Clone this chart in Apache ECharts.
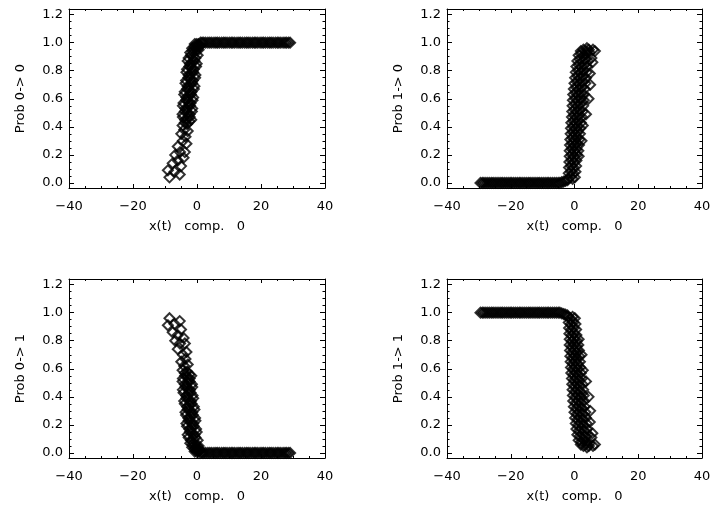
<!DOCTYPE html>
<html>
<head>
<meta charset="utf-8">
<script src="https://cdn.jsdelivr.net/npm/echarts@6/dist/echarts.min.js"></script>
<style>
html,body{margin:0;padding:0;background:#fff;}
#c{width:714px;height:508px;}
</style>
</head>
<body>
<div id="c"></div>
<script>
// ---------- data ----------
const xName = 'x(t)   comp.   0';
const yNames = ['Prob 0-> 0', 'Prob 1-> 0', 'Prob 0-> 1', 'Prob 1-> 1'];
const xTickLabels = [-40, -20, 0, 20, 40];
const yMajor = [0, 0.2, 0.4, 0.6, 0.8, 1.0, 1.2];
const yMinor = [0.05,0.1,0.15,0.25,0.3,0.35,0.45,0.5,0.55,0.65,0.7,0.75,0.85,0.9,0.95,1.05,1.1,1.15];

// start state 0 : x values, P(0->0), P(0->1)
const xA = [
 -8.6,-9.1,-7.0,-5.4,-7.6,-6.0,-6.8,-5.0,-6.0,-4.2,-3.8,-5.3,-3.3,-4.9,-4.4,-3.6,-4.0,-2.9,
 -4.5,-3.8,-3.1,-2.4,
 -4.4,-3.7,-3.0,-2.3,-1.8,
 -4.5,-3.8,-3.0,-2.3,-1.6,
 -4.4,-3.6,-2.9,-2.2,-1.5,
 -4.2,-3.4,-2.7,-2.0,-1.4,
 -4.0,-3.3,-2.6,-1.9,-1.2,
 -3.8,-3.1,-2.4,-1.7,-1.0,
 -3.6,-2.9,-2.2,-1.5,-0.8,
 -3.4,-2.7,-2.0,-1.3,-0.6,
 -3.3,-2.6,-1.9,-1.2,-0.5,
 -3.1,-2.4,-1.7,-1.0,-0.3,
 -2.9,-2.2,-1.5,-0.8,-0.1,
 -2.6,-1.9,-1.2,-0.5,0.2,
 -2.1,-1.4,-0.7,0.0,0.5,
 -1.5,-0.8,-0.1,0.5,1.0,
 -0.7,-0.1,0.5,1.1,1.6,
 2.1,2.7,3.4,4.0,4.6,5.3,5.9,6.4,7.0,7.7,8.3,8.8,9.4,10.1,10.7,11.2,11.8,12.5,13.1,13.6,
 14.2,14.9,15.5,16.0,16.6,17.3,17.9,18.4,19.0,19.7,20.3,20.8,21.4,22.1,22.7,23.2,23.8,24.5,
 25.1,25.6,26.2,26.9,27.5,28.0,28.6,29.1
];
const pA00 = [
 0.04,0.09,0.08,0.06,0.14,0.16,0.20,0.12,0.26,0.18,0.22,0.22,0.28,0.35,0.30,0.33,0.38,0.37,
 0.41,0.43,0.42,0.44,
 0.47,0.45,0.46,0.47,0.45,
 0.49,0.51,0.50,0.49,0.51,
 0.55,0.53,0.54,0.55,0.53,
 0.57,0.59,0.58,0.57,0.59,
 0.63,0.61,0.62,0.63,0.61,
 0.65,0.67,0.66,0.65,0.67,
 0.71,0.69,0.70,0.71,0.69,
 0.73,0.75,0.74,0.73,0.75,
 0.79,0.77,0.78,0.79,0.77,
 0.81,0.83,0.82,0.81,0.83,
 0.87,0.85,0.86,0.87,0.85,
 0.89,0.91,0.90,0.89,0.91,
 0.93,0.94,0.94,0.95,0.95,
 0.96,0.97,0.97,0.98,0.98,
 0.99,0.99,0.99,1.00,1.00,
 1,1,1,1,1,1,1,1,1,1,1,1,1,1,1,1,1,1,1,1,
 1,1,1,1,1,1,1,1,1,1,1,1,1,1,1,1,1,1,
 1,1,1,1,1,1,1,1
];
const pA01 = [
 0.96,0.91,0.92,0.94,0.86,0.84,0.80,0.88,0.74,0.82,0.78,0.78,0.72,0.65,0.70,0.67,0.62,0.63,
 0.59,0.57,0.58,0.56,
 0.53,0.55,0.54,0.53,0.55,
 0.51,0.49,0.50,0.51,0.49,
 0.45,0.47,0.46,0.45,0.47,
 0.43,0.41,0.42,0.43,0.41,
 0.37,0.39,0.38,0.37,0.39,
 0.35,0.33,0.34,0.35,0.33,
 0.29,0.31,0.30,0.29,0.31,
 0.27,0.25,0.26,0.27,0.25,
 0.21,0.23,0.22,0.21,0.23,
 0.19,0.17,0.18,0.19,0.17,
 0.13,0.15,0.14,0.13,0.15,
 0.11,0.09,0.10,0.11,0.09,
 0.07,0.06,0.06,0.05,0.05,
 0.04,0.03,0.03,0.02,0.02,
 0.01,0.01,0.01,0.00,0.00,
 0,0,0,0,0,0,0,0,0,0,0,0,0,0,0,0,0,0,0,0,
 0,0,0,0,0,0,0,0,0,0,0,0,0,0,0,0,0,0,
 0,0,0,0,0,0,0,0
];

// start state 1 : x values, P(1->0), P(1->1)
const xB = [
 -29.5,-28.9,-28.4,-27.8,-27.2,-26.6,-26.0,-25.5,-24.9,-24.3,-23.7,-23.1,-22.6,-22.0,
 -21.4,-20.8,-20.2,-19.7,-19.1,-18.5,-17.9,-17.3,-16.8,-16.2,-15.6,-15.0,-14.4,-13.9,
 -13.3,-12.7,-12.1,-11.5,-11.0,-10.4,-9.8,-9.2,-8.6,-8.1,-7.5,-6.9,-6.3,-5.7,
 -5.1,-4.6,-4.0,-3.4,-2.8,-2.2,
 -2.0,-1.3,-0.6,0.1,
 -1.8,-1.1,-0.4,0.3,
 -1.7,-1.0,-0.3,0.5,
 -1.6,-0.9,-0.2,0.6,
 -1.5,-0.8,-0.1,0.7,1.3,
 -1.5,-0.8,-0.1,0.6,1.2,
 -1.4,-0.7,0.0,0.7,1.4,
 -1.3,-0.6,0.1,0.8,1.5,
 -1.2,-0.5,0.2,0.9,1.7,
 -1.1,-0.4,0.3,1.0,1.8,
 -1.0,-0.3,0.4,1.2,2.0,
 -0.8,-0.1,0.6,1.4,2.3,
 -0.7,0.0,0.8,1.6,2.5,
 -0.6,0.2,1.0,1.8,2.7,
 -0.5,0.3,1.1,2.0,2.9,
 -0.4,0.4,1.2,2.1,3.0,
 -0.2,0.6,1.4,2.3,3.2,
 0.0,0.8,1.6,2.5,3.4,
 0.2,1.0,1.8,2.7,3.6,
 0.4,1.2,2.0,2.9,3.8,
 0.6,1.4,2.2,3.1,4.0,
 0.9,1.7,2.5,3.3,4.2,
 1.3,2.1,2.9,3.7,
 2.0,2.8,3.6,4.5,
 4.8,5.3,5.8,4.9,3.6,2.6,2.2,6.4,4.7,3.9,4.4,5.6
];
const pB10 = [
 0,0,0,0,0,0,0,0,0,0,0,0,0,0,
 0,0,0,0,0,0,0,0,0,0,0,0,0,0,
 0,0,0,0,0,0,0,0,0,0,0,0,0,0,
 0.00,0.00,0.005,0.01,0.015,0.02,
 0.03,0.04,0.03,0.04,
 0.07,0.08,0.07,0.08,
 0.11,0.12,0.11,0.12,
 0.15,0.16,0.15,0.16,
 0.19,0.20,0.19,0.20,0.19,
 0.23,0.24,0.23,0.24,0.23,
 0.27,0.28,0.27,0.28,0.27,
 0.31,0.32,0.31,0.32,0.31,
 0.35,0.36,0.35,0.36,0.35,
 0.39,0.40,0.39,0.40,0.39,
 0.43,0.44,0.43,0.44,0.43,
 0.47,0.48,0.47,0.48,0.47,
 0.51,0.52,0.51,0.52,0.51,
 0.55,0.56,0.55,0.56,0.55,
 0.59,0.60,0.59,0.60,0.59,
 0.63,0.64,0.63,0.64,0.63,
 0.67,0.68,0.67,0.68,0.67,
 0.71,0.72,0.71,0.72,0.71,
 0.75,0.76,0.75,0.76,0.75,
 0.79,0.80,0.79,0.80,0.79,
 0.83,0.84,0.83,0.84,0.83,
 0.87,0.88,0.87,0.88,0.87,
 0.91,0.92,0.91,0.92,
 0.94,0.95,0.94,0.95,
 0.78,0.89,0.95,0.70,0.49,0.41,0.30,0.94,0.93,0.96,0.60,0.86
];
const pB11 = [
 1,1,1,1,1,1,1,1,1,1,1,1,1,1,
 1,1,1,1,1,1,1,1,1,1,1,1,1,1,
 1,1,1,1,1,1,1,1,1,1,1,1,1,1,
 1.00,1.00,0.995,0.99,0.985,0.98,
 0.97,0.96,0.97,0.96,
 0.93,0.92,0.93,0.92,
 0.89,0.88,0.89,0.88,
 0.85,0.84,0.85,0.84,
 0.81,0.80,0.81,0.80,0.81,
 0.77,0.76,0.77,0.76,0.77,
 0.73,0.72,0.73,0.72,0.73,
 0.69,0.68,0.69,0.68,0.69,
 0.65,0.64,0.65,0.64,0.65,
 0.61,0.60,0.61,0.60,0.61,
 0.57,0.56,0.57,0.56,0.57,
 0.53,0.52,0.53,0.52,0.53,
 0.49,0.48,0.49,0.48,0.49,
 0.45,0.44,0.45,0.44,0.45,
 0.41,0.40,0.41,0.40,0.41,
 0.37,0.36,0.37,0.36,0.37,
 0.33,0.32,0.33,0.32,0.33,
 0.29,0.28,0.29,0.28,0.29,
 0.25,0.24,0.25,0.24,0.25,
 0.21,0.20,0.21,0.20,0.21,
 0.17,0.16,0.17,0.16,0.17,
 0.13,0.12,0.13,0.12,0.13,
 0.09,0.08,0.09,0.08,
 0.06,0.05,0.06,0.05,
 0.22,0.11,0.05,0.30,0.51,0.59,0.70,0.06,0.07,0.04,0.40,0.14
];

[[xA,pA00],[xA,pA01],[xB,pB10],[xB,pB11]].forEach(([a,b],i)=>{
  if (a.length !== b.length) throw new Error('length mismatch ' + i + ': ' + a.length + ' vs ' + b.length);
});

// ---------- chart ----------
const FONT = 'DejaVu Sans';
const TXT = {fontFamily: FONT, fontSize: 13, color: '#000'};
const yMin = -0.036, yMax = 1.24;
const xMin = xTickLabels[0], xMax = xTickLabels[xTickLabels.length - 1];

const panels = [
  {grid:{left:69, top:9, width:256, height:179}, xs:xA, ys:pA00, yName:yNames[0]},
  {grid:{left:447, top:9, width:255, height:179}, xs:xB, ys:pB10, yName:yNames[1]},
  {grid:{left:69, top:279, width:256, height:179}, xs:xA, ys:pA01, yName:yNames[2]},
  {grid:{left:447, top:279, width:255, height:179}, xs:xB, ys:pB11, yName:yNames[3]}
];

const grids = [], xAxes = [], yAxes = [], series = [];
const lineStyle = {color:'#000', width:1};

panels.forEach((p, i) => {
  grids.push(Object.assign({containLabel:false, outerBoundsMode:'none'}, p.grid));
  [['bottom', true], ['top', false]].forEach(([pos, main]) => {
    xAxes.push({
      type:'value', gridIndex:i, position:pos, min:xMin, max:xMax, interval:20,
      axisLine:{show:true, onZero:false, lineStyle},
      axisTick:{show:true, inside:true, length:4, lineStyle},
      minorTick:{show:true, splitNumber:4, length:2, lineStyle},
      splitLine:{show:false}, minorSplitLine:{show:false},
      axisLabel:{show:main, margin:12, ...TXT,
        formatter: v => (v < 0 ? '\u2212' : '') + Math.abs(v)},
      name: main ? xName : '', nameLocation:'middle', nameGap:32,
      nameTextStyle: TXT
    });
  });
  [['left', true], ['right', false]].forEach(([pos, main]) => {
    yAxes.push({
      type:'value', gridIndex:i, position:pos, min:yMin, max:yMax,
      axisLine:{show:true, onZero:false, lineStyle},
      axisTick:{show:true, inside:true, length:5, customValues:yMajor, lineStyle},
      splitLine:{show:false},
      axisLabel:{show:main, customValues:yMajor, margin:6, ...TXT,
        formatter: v => v.toFixed(1)},
      name: main ? p.yName : '', nameLocation:'middle', nameGap:42,
      nameTextStyle: TXT
    });
  });
  ['left', 'right'].forEach(pos => {
    yAxes.push({
      type:'value', gridIndex:i, position:pos, min:yMin, max:yMax,
      axisLine:{show:false, onZero:false},
      axisTick:{show:true, inside:true, length:2.5, customValues:yMinor, lineStyle},
      splitLine:{show:false},
      axisLabel:{show:false, customValues:yMinor}
    });
  });
  series.push({
    type:'scatter', xAxisIndex:2*i, yAxisIndex:4*i,
    symbol:'diamond', symbolSize:10,
    itemStyle:{color:'rgba(0,0,0,0)', borderColor:'#000', borderWidth:2},
    emphasis:{disabled:true},
    data: p.xs.map((x, k) => [x, p.ys[k]])
  });
});

const chart = echarts.init(document.getElementById('c'), null, {renderer:'canvas'});
chart.setOption({
  animation:false,
  backgroundColor:'#fff',
  grid:grids, xAxis:xAxes, yAxis:yAxes, series:series
});
</script>
</body>
</html>
